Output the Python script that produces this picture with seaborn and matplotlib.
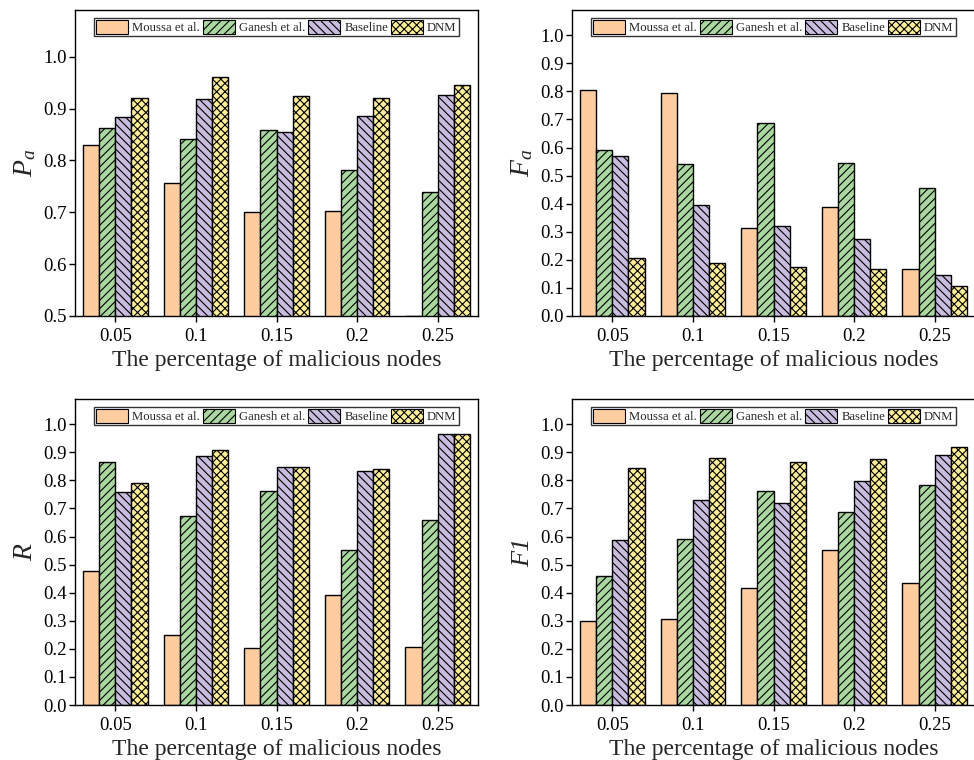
import numpy as np
import pandas as pd
import matplotlib
matplotlib.use("Agg")
import matplotlib.pyplot as plt
import matplotlib.patches as mpatches
import seaborn as sns

# x categories (fraction of malicious nodes)
ratios = ["0.05", "0.1", "0.15", "0.2", "0.25"]
methods = ["Moussa et al.", "Ganesh et al.", "Baseline", "DNM"]

# P_a
pa_moussa = [0.830, 0.757, 0.701, 0.703, 0.500]
pa_ganesh = [0.862, 0.842, 0.858, 0.782, 0.739]
pa_baseline = [0.883, 0.918, 0.855, 0.885, 0.927]
pa_dnm = [0.921, 0.961, 0.925, 0.920, 0.945]

# F_a
fa_moussa = [0.806, 0.795, 0.314, 0.387, 0.169]
fa_ganesh = [0.590, 0.543, 0.687, 0.546, 0.456]
fa_baseline = [0.569, 0.394, 0.321, 0.275, 0.146]
fa_dnm = [0.208, 0.188, 0.176, 0.168, 0.108]

# R
r_moussa = [0.477, 0.250, 0.202, 0.392, 0.205]
r_ganesh = [0.865, 0.673, 0.763, 0.551, 0.658]
r_baseline = [0.758, 0.887, 0.848, 0.833, 0.967]
r_dnm = [0.792, 0.910, 0.848, 0.840, 0.967]

# F1
f1_moussa = [0.298, 0.308, 0.417, 0.551, 0.435]
f1_ganesh = [0.458, 0.593, 0.763, 0.688, 0.782]
f1_baseline = [0.587, 0.730, 0.718, 0.799, 0.889]
f1_dnm = [0.843, 0.880, 0.864, 0.875, 0.918]

colors = ["#FDCDA0", "#AAD6A0", "#C9BDDF", "#FCEE98"]
hatches = ["", "////", "\\\\\\\\", "xxxx"]

sns.set_style("ticks")
plt.rcParams["font.family"] = ["Liberation Serif", "DejaVu Serif"]
plt.rcParams["mathtext.fontset"] = "custom"
plt.rcParams["mathtext.rm"] = "Liberation Serif"
plt.rcParams["mathtext.it"] = "Liberation Serif:italic"
plt.rcParams["hatch.linewidth"] = 0.8
plt.rcParams["hatch.color"] = "black"


def long_frame(series):
    rows = []
    for m, vals in zip(methods, series):
        for r, v in zip(ratios, vals):
            rows.append({"ratio": r, "method": m, "value": v})
    return pd.DataFrame(rows)


panels = [
    ([pa_moussa, pa_ganesh, pa_baseline, pa_dnm], r"$P_a$", (0.5, 1.09),
     np.arange(0.5, 1.01, 0.1), [75, 10]),
    ([fa_moussa, fa_ganesh, fa_baseline, fa_dnm], r"$F_a$", (0.0, 1.09),
     np.arange(0.0, 1.01, 0.1), [572, 10]),
    ([r_moussa, r_ganesh, r_baseline, r_dnm], r"$R$", (0.0, 1.09),
     np.arange(0.0, 1.01, 0.1), [75, 399]),
    ([f1_moussa, f1_ganesh, f1_baseline, f1_dnm], "F1", (0.0, 1.09),
     np.arange(0.0, 1.01, 0.1), [572, 399]),
]

W, H = 974, 760
fig = plt.figure(figsize=(W / 100, H / 100), dpi=100)
aw, ah = 403, 306

for series, ylabel, ylim, yticks, (px, py) in panels:
    ax = fig.add_axes([px / W, 1 - (py + ah) / H, aw / W, ah / H])
    df = long_frame(series)
    sns.barplot(data=df, x="ratio", y="value", hue="method", order=ratios,
                hue_order=methods, palette=colors, saturation=1,
                edgecolor="black", linewidth=1.0, width=0.8, ax=ax,
                legend=False)
    for cont, h, c in zip(ax.containers, hatches, colors):
        for bar in cont:
            bar.set_hatch(h)
            bar.set_facecolor(c)
            bar.set_edgecolor("black")
    ax.set_xlim(-0.5, 4.5)
    ax.set_ylim(*ylim)
    ax.set_yticks(yticks)
    ax.set_yticklabels([f"{t:.1f}" for t in yticks])
    ax.tick_params(axis="both", labelsize=13.5, direction="out", length=4,
                   width=1, colors="black", pad=2)
    ax.tick_params(axis="x", pad=5)
    ax.set_xlabel("The percentage of malicious nodes", fontsize=17, labelpad=3)
    if ylabel == "F1":
        ax.set_ylabel(ylabel, fontsize=19, fontstyle="italic", labelpad=4)
    else:
        ax.set_ylabel(ylabel, fontsize=20, labelpad=4)
    for s in ax.spines.values():
        s.set_visible(True)
        s.set_color("black")
        s.set_linewidth(1.0)
    handles = [mpatches.Patch(facecolor=c, edgecolor="black", hatch=h,
                              linewidth=0.8, label=m)
               for m, c, h in zip(methods, colors, hatches)]
    leg = ax.legend(handles=handles, loc="upper center",
                    bbox_to_anchor=(0.5, 1.0), ncol=4, fontsize=9.2,
                    frameon=True, fancybox=False, framealpha=1,
                    edgecolor="#333333", handlelength=2.5, handleheight=1.4,
                    handletextpad=0.3, columnspacing=0.25, borderpad=0.15,
                    borderaxespad=0.6)
    leg.get_frame().set_linewidth(1.0)

fig.savefig("out.png", dpi=100)
